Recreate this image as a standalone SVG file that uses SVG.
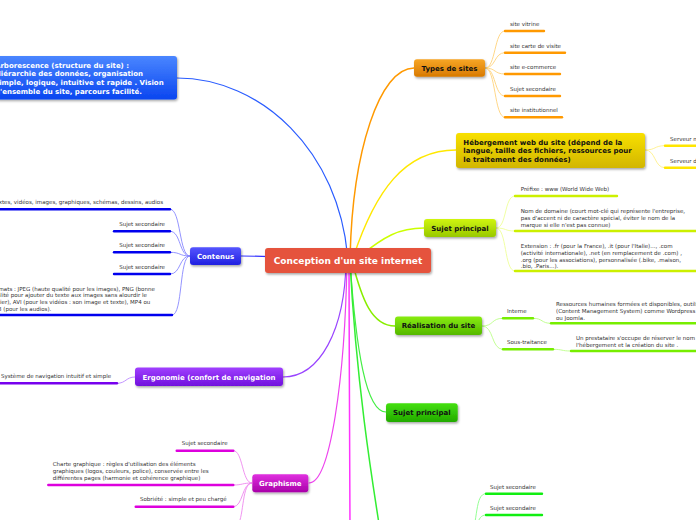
<svg xmlns="http://www.w3.org/2000/svg" width="696" height="520" viewBox="0 0 696 520">
<defs>
<filter id="sh" x="-10%" y="-20%" width="120%" height="150%"><feDropShadow dx="1" dy="1.5" stdDeviation="1" flood-color="#000" flood-opacity="0.35"/></filter>
<linearGradient id="gBlue" x1="0" y1="0" x2="0" y2="1"><stop offset="0" stop-color="#4a86ff"/><stop offset="1" stop-color="#0a46f0"/></linearGradient>
<linearGradient id="gOrange" x1="0" y1="0" x2="0" y2="1"><stop offset="0" stop-color="#f7a626"/><stop offset="1" stop-color="#d87a00"/></linearGradient>
<linearGradient id="gYellow" x1="0" y1="0" x2="0" y2="1"><stop offset="0" stop-color="#f8e000"/><stop offset="1" stop-color="#d2b600"/></linearGradient>
<linearGradient id="gYg" x1="0" y1="0" x2="0" y2="1"><stop offset="0" stop-color="#d0f510"/><stop offset="1" stop-color="#98c800"/></linearGradient>
<linearGradient id="gLime" x1="0" y1="0" x2="0" y2="1"><stop offset="0" stop-color="#88ec10"/><stop offset="1" stop-color="#55b800"/></linearGradient>
<linearGradient id="gGreen" x1="0" y1="0" x2="0" y2="1"><stop offset="0" stop-color="#44e010"/><stop offset="1" stop-color="#22aa00"/></linearGradient>
<linearGradient id="gCont" x1="0" y1="0" x2="0" y2="1"><stop offset="0" stop-color="#5555ff"/><stop offset="1" stop-color="#2020e0"/></linearGradient>
<linearGradient id="gPurple" x1="0" y1="0" x2="0" y2="1"><stop offset="0" stop-color="#a040ff"/><stop offset="1" stop-color="#7010dd"/></linearGradient>
<linearGradient id="gMag" x1="0" y1="0" x2="0" y2="1"><stop offset="0" stop-color="#e030e0"/><stop offset="1" stop-color="#a800a8"/></linearGradient>
</defs>
<style>
.n{font-family:"DejaVu Sans",Verdana,sans-serif;font-weight:bold;font-size:7px}
.c{font-family:"DejaVu Sans",Verdana,sans-serif;font-weight:bold;font-size:9px;fill:#fff}
.w{fill:#fff}
.k{fill:#111}
.l{font-family:"DejaVu Sans",Verdana,sans-serif;font-size:5.5px;fill:#333}
.m{fill:none;stroke-linecap:round}
.u{fill:none;stroke-width:2.4;stroke-linecap:round}
.f{fill:none;stroke-width:0.9}
</style>
<rect width="696" height="520" fill="#fff"/>
<g id="connectors">
<path class="m" stroke="#2a5cff" stroke-width="1.2" d="M348,261 C340,150 260,78 177,78"/>
<path class="m" stroke="#ff9900" stroke-width="1.5" d="M350,261 C352,150 380,68 414,68"/>
<path class="m" stroke="#ffe800" stroke-width="1.5" d="M352,261 C375,190 405,150 456,150"/>
<path class="m" stroke="#ccff00" stroke-width="1.5" d="M354,261 C385,235 400,228 424,228"/>
<path class="m" stroke="#88ee00" stroke-width="1.5" d="M352,261 C362,300 372,326 395,326"/>
<path class="m" stroke="#44ee44" stroke-width="1.2" d="M350,261 C356,350 366,412 386,412"/>
<path class="m" stroke="#33ee33" stroke-width="1.5" d="M350,261 C356,380 372,480 380,530"/>
<path class="m" stroke="#ff33ff" stroke-width="1.5" d="M349,261 C349,350 350,450 350,530"/>
<path class="m" stroke="#ee44ee" stroke-width="1.2" d="M347,261 C345,380 330,483 309,483"/>
<path class="m" stroke="#9944ff" stroke-width="1.2" d="M346,261 C345,330 320,377 283,377"/>
<path class="m" stroke="#3333ff" stroke-width="1.2" d="M348,261 C300,258 262,256 241,256"/>
<!-- Types de sites -->
<g stroke="#ffd27a">
<path class="f" d="M485,68 C496,68 494,31 505,31"/>
<path class="f" d="M485,68 C496,68 494,52.7 505,52.7"/>
<path class="f" d="M485,68 C496,68 494,74 505,74"/>
<path class="f" d="M485,68 C496,68 494,96 505,96"/>
<path class="f" d="M485,68 C496,68 494,117.3 505,117.3"/>
</g>
<g stroke="#ff9900">
<path class="u" d="M505,31 H544"/>
<path class="u" d="M505,52.7 H565"/>
<path class="u" d="M505,74 H560"/>
<path class="u" d="M505,96 H560"/>
<path class="u" d="M505,117.3 H562"/>
</g>
<!-- Hebergement -->
<path class="f" stroke="#fff08a" d="M645,150 C656,150 654,145.7 665,145.7"/>
<path class="f" stroke="#fff08a" d="M645,150 C656,150 654,167.7 665,167.7"/>
<path class="u" stroke="#ffe600" d="M665,145.7 H697"/>
<path class="u" stroke="#ffe600" d="M665,167.7 H697"/>
<!-- Sujet principal (yg) -->
<g stroke="#eeff99">
<path class="f" d="M496,228 C507,228 504,196 515,196"/>
<path class="f" d="M496,228 C507,228 504,231 515,231"/>
<path class="f" d="M496,228 C507,228 504,271 515,271"/>
</g>
<g stroke="#ccf000">
<path class="u" d="M515,196 H617"/>
<path class="u" d="M515,231 H697"/>
<path class="u" d="M515,271 H697"/>
</g>
<!-- Realisation -->
<g stroke="#bbff88">
<path class="f" d="M482,326 C494,326 491,318.3 503,318.3"/>
<path class="f" d="M482,326 C494,326 491,349.3 503,349.3"/>
<path class="f" d="M533,318.3 C543,318.3 541,323.3 551,323.3"/>
<path class="f" d="M553,349.3 C563,349.3 561,351 571,351"/>
</g>
<g stroke="#77ee00">
<path class="u" d="M503,318.3 H533"/>
<path class="u" d="M503,349.3 H553"/>
<path class="u" d="M551,323.3 H697"/>
<path class="u" d="M571,351 H697"/>
</g>
<!-- bottom green -->
<path class="f" stroke="#88ff88" d="M470,545 C478,520 475,493.7 486,493.7"/>
<path class="f" stroke="#88ff88" d="M470,545 C478,530 476,515 486,515"/>
<path class="u" stroke="#11ee11" d="M486,493.7 H542"/>
<path class="u" stroke="#11ee11" d="M486,515 H542"/>
<!-- Contenus -->
<g stroke="#8888ff">
<path class="f" d="M190,256 C179,256 181,209.3 170,209.3"/>
<path class="f" d="M190,256 C179,256 181,231.3 170,231.3"/>
<path class="f" d="M190,256 C179,256 181,252.3 170,252.3"/>
<path class="f" d="M190,256 C179,256 181,274 170,274"/>
<path class="f" d="M190,256 C179,256 183,315 172,315"/>
</g>
<g stroke="#0000ee">
<path class="u" d="M-2,209.3 H170"/>
<path class="u" d="M114,231.3 H170"/>
<path class="u" d="M114,252.3 H170"/>
<path class="u" d="M114,274 H170"/>
<path class="u" d="M-2,315 H172"/>
</g>
<!-- Ergonomie -->
<path class="f" stroke="#bb88ff" d="M135,377 C126,377 126,383.3 117,383.3"/>
<path class="u" stroke="#7700ee" d="M-2,383.3 H117"/>
<!-- Graphisme -->
<g stroke="#ee88ee">
<path class="f" d="M252,483 C242,483 243,450.7 233.3,450.7"/>
<path class="f" d="M252,483 C242,483 243,485 233.3,485"/>
<path class="f" d="M252,483 C242,483 243,506.7 233.3,506.7"/>
<path class="f" d="M252,483 C242,483 244,515 238,525"/>
</g>
<g stroke="#dd00dd">
<path class="u" d="M176.7,450.7 H233.3"/>
<path class="u" d="M48.3,485 H233.3"/>
<path class="u" d="M135.7,506.7 H233.3"/>
</g>
</g>
<g id="center">
<rect x="265" y="248" width="166" height="25" rx="3" fill="#e5533c" filter="url(#sh)"/>
<text class="c" x="348" y="264" text-anchor="middle">Conception d'un site internet</text>
</g>
<g id="arborescence">
<rect x="-5" y="56" width="182" height="43.5" rx="3" fill="url(#gBlue)" filter="url(#sh)"/>
<text class="n w" x="-5" y="67.5">Arborescence (structure du site) :</text>
<text class="n w" x="-5" y="76.2">Hiérarchie des données, organisation</text>
<text class="n w" x="-5" y="84.8">simple, logique, intuitive et rapide . Vision</text>
<text class="n w" x="-5" y="93.5">d'ensemble du site, parcours facilité.</text>
</g>
<g id="types">
<rect x="414" y="59.3" width="71" height="17.4" rx="3" fill="url(#gOrange)" filter="url(#sh)"/>
<text class="n k" x="449.5" y="70.5" text-anchor="middle">Types de sites</text>
<text class="l" x="510" y="26">site vitrine</text>
<text class="l" x="510" y="47.7">site carte de visite</text>
<text class="l" x="510" y="69.3">site e-commerce</text>
<text class="l" x="510" y="91">Sujet secondaire</text>
<text class="l" x="510" y="112.3">site institutionnel</text>
</g>
<g id="hebergement">
<rect x="456" y="133" width="189" height="35" rx="3" fill="url(#gYellow)" filter="url(#sh)"/>
<text class="n k" x="463.3" y="144.5">Hébergement web du site (dépend de la</text>
<text class="n k" x="463.3" y="153">langue, taille des fichiers, ressources pour</text>
<text class="n k" x="463.3" y="161.5">le traitement des données)</text>
<text class="l" x="670" y="141">Serveur mutualisé</text>
<text class="l" x="670" y="162.7">Serveur dédié</text>
</g>
<g id="sujet1">
<rect x="424" y="219" width="72" height="18" rx="3" fill="url(#gYg)" filter="url(#sh)"/>
<text class="n k" x="460" y="230.5" text-anchor="middle">Sujet principal</text>
<text class="l" x="520.7" y="191.3">Préfixe : www (World Wide Web)</text>
<text class="l" x="520.7" y="213">Nom de domaine (court mot-clé qui représente l'entreprise,</text>
<text class="l" x="520.7" y="220">pas d'accent ni de caractère spécial, éviter le nom de la</text>
<text class="l" x="520.7" y="226.8">marque si elle n'est pas connue)</text>
<text class="l" x="520.7" y="247.5">Extension : .fr (pour la France), .it (pour l'Italie)..., .com</text>
<text class="l" x="520.7" y="254.5">(activité internationale), .net (en remplacement de .com) ,</text>
<text class="l" x="520.7" y="261.5">.org (pour les associations), personnalisée (.bike, .maison,</text>
<text class="l" x="520.7" y="268.3">.bio, .Paris...).</text>
</g>
<g id="realisation">
<rect x="395" y="316.5" width="87" height="18.5" rx="3" fill="url(#gLime)" filter="url(#sh)"/>
<text class="n k" x="438.5" y="328.3" text-anchor="middle">Réalisation du site</text>
<text class="l" x="507" y="313">Interne</text>
<text class="l" x="556" y="306.3">Ressources humaines formées et disponibles, outils CMS</text>
<text class="l" x="556" y="313.3">(Content Management System) comme Wordpress</text>
<text class="l" x="556" y="320.3">ou Joomla.</text>
<text class="l" x="507" y="344.3">Sous-traitance</text>
<text class="l" x="576" y="340.3">Un prestataire s'occupe de réserver le nom de domaine,</text>
<text class="l" x="576" y="347.3">l'hébergement et la création du site .</text>
</g>
<g id="sujet2">
<rect x="386" y="403.3" width="71.7" height="18.7" rx="3" fill="url(#gGreen)" filter="url(#sh)"/>
<text class="n k" x="421.8" y="415.2" text-anchor="middle">Sujet principal</text>
</g>
<g id="bottomgreen">
<text class="l" x="490" y="489">Sujet secondaire</text>
<text class="l" x="490" y="509.7">Sujet secondaire</text>
</g>
<g id="contenus">
<rect x="190" y="247.3" width="51" height="17.7" rx="3" fill="url(#gCont)" filter="url(#sh)"/>
<text class="n w" x="215.5" y="258.7" text-anchor="middle">Contenus</text>
<text class="l" x="-7" y="204.3">Textes, vidéos, images, graphiques, schémas, dessins, audios</text>
<text class="l" x="165" y="226" text-anchor="end">Sujet secondaire</text>
<text class="l" x="165" y="247" text-anchor="end">Sujet secondaire</text>
<text class="l" x="165" y="269" text-anchor="end">Sujet secondaire</text>
<text class="l" x="-10" y="290.5">Formats : JPEG (haute qualité pour les images), PNG (bonne</text>
<text class="l" x="-10" y="297.3">qualité pour ajouter du texte aux images sans alourdir le</text>
<text class="l" x="-10" y="304">fichier), AVI (pour les vidéos : son image et texte), MP4 ou</text>
<text class="l" x="-10" y="310.5">MP3 (pour les audios).</text>
</g>
<g id="ergonomie">
<rect x="135" y="367.5" width="148" height="18.5" rx="3" fill="url(#gPurple)" filter="url(#sh)"/>
<text class="n w" x="209" y="379.5" text-anchor="middle">Ergonomie (confort de navigation</text>
<text class="l" x="1" y="377.7">Système de navigation intuitif et simple</text>
</g>
<g id="graphisme">
<rect x="252.3" y="474.3" width="56" height="18" rx="3" fill="url(#gMag)" filter="url(#sh)"/>
<text class="n w" x="280.3" y="485.8" text-anchor="middle">Graphisme</text>
<text class="l" x="181.7" y="445.3">Sujet secondaire</text>
<text class="l" x="52.7" y="466.3">Charte graphique : règles d'utilisation des éléments</text>
<text class="l" x="52.7" y="473.3">graphiques (logos, couleurs, police), conservée entre les</text>
<text class="l" x="52.7" y="480.3">différentes pages (harmonie et cohérence graphique)</text>
<text class="l" x="140" y="501.3">Sobriété : simple et peu chargé</text>
</g>
</svg>
